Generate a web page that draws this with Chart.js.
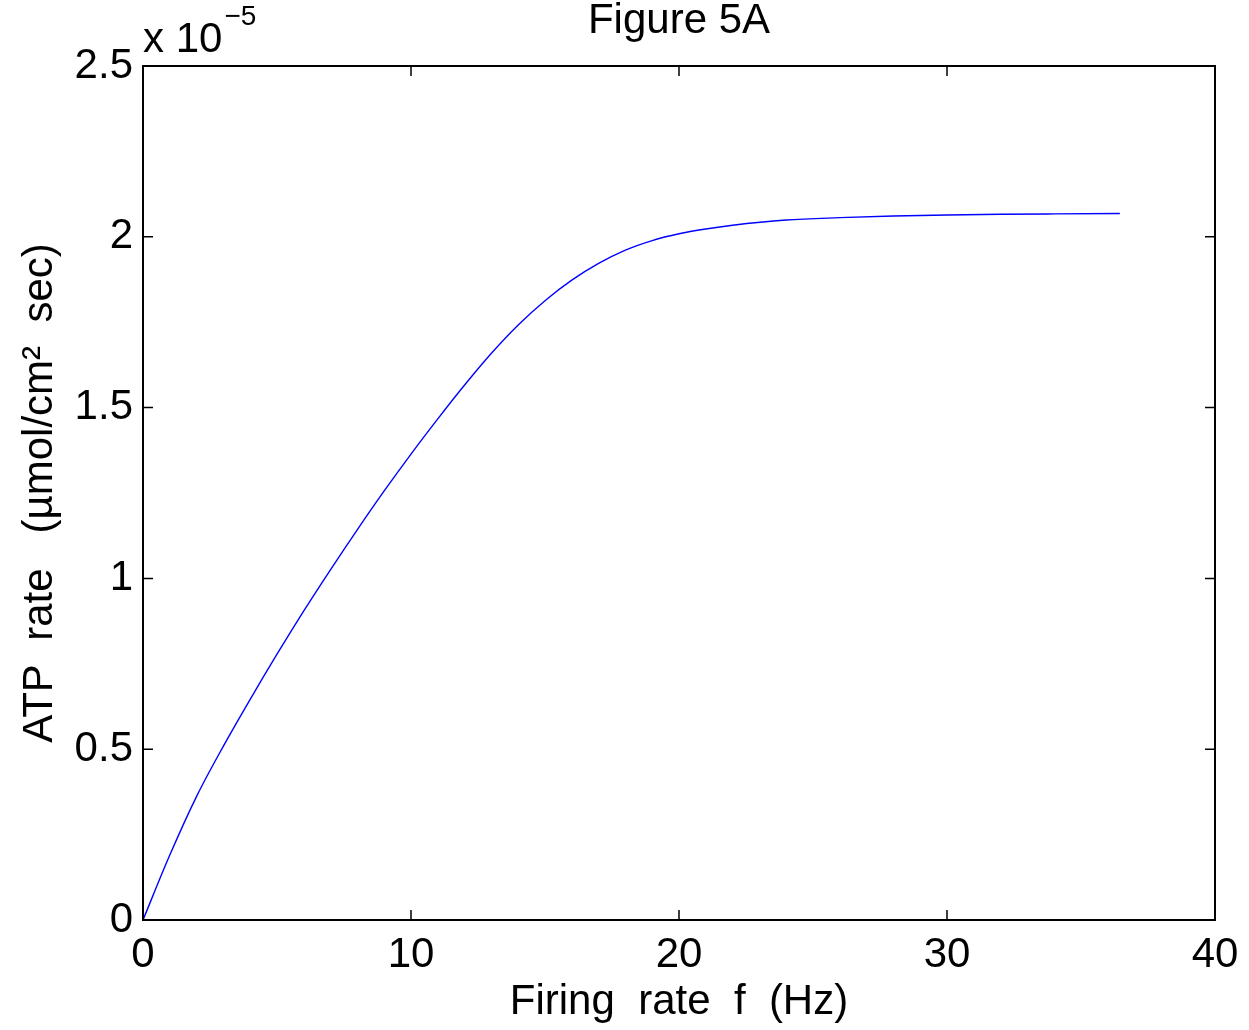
<!DOCTYPE html>
<html>
<head>
<meta charset="utf-8">
<title>Figure 5A</title>
<script src="https://cdn.jsdelivr.net/npm/chart.js@4.4.1/dist/chart.umd.min.js"></script>
<style>
  html, body { margin: 0; padding: 0; background: #fff; }
  #wrap { width: 1249px; height: 1030px; }
</style>
</head>
<body>
<div id="wrap"><canvas id="atpChart"></canvas></div>
<script>
// Firing rate (Hz) vs ATP rate (in units of 1e-5 umol/cm^2 sec)
const firingRate = [0, 1, 2, 3, 4, 5, 6, 7, 8, 9, 10, 11, 12, 13, 14, 15, 16, 17, 18, 19, 20, 21, 22, 24, 26, 28, 30, 32, 34, 36.45];
const atpRate = [0, 0.19, 0.362, 0.509, 0.646, 0.778, 0.905, 1.026, 1.143, 1.256, 1.364, 1.467, 1.566, 1.659, 1.742, 1.813, 1.873, 1.922, 1.961, 1.989, 2.009, 2.023, 2.034, 2.049, 2.056, 2.061, 2.064, 2.066, 2.067, 2.068];
const xTicks = [0, 10, 20, 30, 40];
const yTicks = [0, 0.5, 1, 1.5, 2, 2.5];

const FONT = '"Liberation Sans", Arial, Helvetica, sans-serif';
Chart.defaults.font.family = FONT;
Chart.defaults.color = '#000';

// matlab style box, inward ticks and the "x 10^-5" multiplier
const matlabAxes = {
  id: 'matlabAxes',
  afterDatasetsDraw(chart) {
    const { ctx, chartArea: a, scales: { x, y } } = chart;
    const len = 10;
    ctx.save();
    ctx.strokeStyle = '#000';
    ctx.lineWidth = 1.5;
    xTicks.forEach(v => {
      const px = x.getPixelForValue(v);
      ctx.beginPath();
      ctx.moveTo(px, a.bottom); ctx.lineTo(px, a.bottom - len);
      ctx.moveTo(px, a.top); ctx.lineTo(px, a.top + len);
      ctx.stroke();
    });
    yTicks.forEach(v => {
      const py = y.getPixelForValue(v);
      ctx.beginPath();
      ctx.moveTo(a.left, py); ctx.lineTo(a.left + len, py);
      ctx.moveTo(a.right, py); ctx.lineTo(a.right - len, py);
      ctx.stroke();
    });
    ctx.lineWidth = 2;
    ctx.strokeRect(a.left, a.top, a.right - a.left, a.bottom - a.top);

    ctx.fillStyle = '#000';
    ctx.textAlign = 'left';
    ctx.textBaseline = 'alphabetic';
    ctx.font = '42px ' + FONT;
    ctx.fillText('x 10', a.left, 52);
    const w = ctx.measureText('x 10').width;
    ctx.font = '28px ' + FONT;
    ctx.fillText('\u22125', a.left + w + 2, 25);
    ctx.restore();
  }
};

new Chart(document.getElementById('atpChart').getContext('2d'), {
  type: 'line',
  data: {
    datasets: [{
      label: 'ATP rate',
      data: firingRate.map((f, i) => ({ x: f, y: atpRate[i] })),
      borderColor: '#0000ff',
      borderWidth: 1.4,
      pointRadius: 0,
      fill: false,
      cubicInterpolationMode: 'monotone'
    }]
  },
  options: {
    responsive: true,
    maintainAspectRatio: false,
    animation: false,
    layout: { padding: { left: 0, right: 34, top: 0, bottom: 0 } },
    plugins: {
      legend: { display: false },
      tooltip: { enabled: false },
      title: {
        display: true,
        fullSize: false,
        text: 'Figure 5A',
        font: { size: 42, weight: 'normal', lineHeight: 1.2 },
        color: '#000',
        padding: { top: -4, bottom: 19.6 }
      }
    },
    scales: {
      x: {
        type: 'linear',
        min: 0,
        max: 40,
        grid: { display: false, drawTicks: false },
        border: { display: false },
        ticks: { stepSize: 10, padding: 10, font: { size: 42 }, color: '#000', maxRotation: 0 },
        title: {
          display: true,
          text: 'Firing  rate  f  (Hz)',
          font: { size: 42, lineHeight: 1.2 },
          color: '#000',
          padding: { top: 0, bottom: 2 }
        },
        afterFit(scale) {
          scale.height = 110;
          scale.paddingLeft = 0;
          scale.paddingRight = 0;
        }
      },
      y: {
        min: 0,
        max: 2.5,
        grid: { display: false, drawTicks: false },
        border: { display: false },
        ticks: {
          stepSize: 0.5,
          padding: 10,
          font: { size: 42 },
          color: '#000',
          callback: v => String(v)
        },
        title: {
          display: true,
          text: 'ATP  rate   (\u00b5mol/cm\u00b2  sec)',
          font: { size: 42, lineHeight: 1.2 },
          color: '#000',
          padding: { top: 15, bottom: 0 }
        },
        afterFit(scale) { scale.width = 143; }
      }
    }
  },
  plugins: [matlabAxes]
});
</script>
</body>
</html>
